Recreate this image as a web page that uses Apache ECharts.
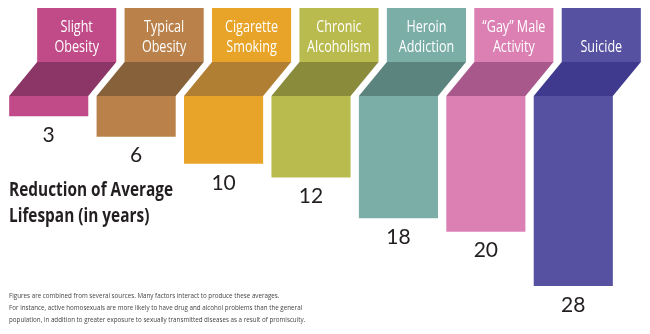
<!DOCTYPE html>
<html>
<head>
<meta charset="utf-8">
<script src="https://cdn.jsdelivr.net/npm/echarts@6/dist/echarts.min.js"></script>
<style>html,body{margin:0;padding:0;background:#fff;}#c{width:650px;height:334px;}</style>
</head>
<body>
<div id="c"></div>
<script>
var categories = ['Slight\nObesity', 'Typical\nObesity', 'Cigarette\nSmoking', 'Chronic\nAlcoholism', 'Heroin\nAddiction', '\u201cGay\u201d Male\nActivity', 'Suicide'];
var values = [3, 6, 10, 12, 18, 20, 28];
var mainColors = ['#C04B88', '#BA824A', '#E7A429', '#BABB4E', '#7AAEA6', '#DC80B4', '#5652A1'];
var darkColors = ['#8C3667', '#87613A', '#B17F33', '#8A8B3B', '#5B847E', '#A9588B', '#3F3A8D'];
var titleText = 'Reduction of Average\nLifespan (in years)';
var noteText = 'Figures are combined from several sources. Many factors interact to produce these averages.\nFor instance, active homosexuals are more likely to have drug and alcohol problems than the general\npopulation, in addition to greater exposure to sexually transmitted diseases as a result of promiscuity.';

var chart = echarts.init(document.getElementById('c'), null, {renderer: 'canvas'});
var FONT = '"Open Sans", "Noto Sans", sans-serif';

function renderItem(params, api) {
  var idx = api.value(0);
  var v = api.value(1);
  var p0 = api.coord([idx, 0]);
  var pv = api.coord([idx, v]);
  var band = api.size([1, 0])[0];
  var w = band * 0.905;
  var cx = p0[0];
  var y0 = p0[1];
  var yv = pv[1];
  var shift = 28;
  var slantH = 34;
  var boxH = 54;
  var left = cx - w / 2;
  return {
    type: 'group',
    children: [
      {type: 'rect', shape: {x: left, y: y0, width: w, height: yv - y0}, style: {fill: mainColors[idx]}},
      {type: 'polygon', shape: {points: [[left, y0], [left + w, y0], [left + w + shift, y0 - slantH], [left + shift, y0 - slantH]]}, style: {fill: darkColors[idx]}},
      {type: 'rect', shape: {x: left + shift, y: y0 - slantH - boxH, width: w, height: boxH}, style: {fill: mainColors[idx]}},
      {type: 'text', x: cx + shift, y: y0 - slantH - 5, scaleX: 0.74,
        style: {text: categories[idx], x: 0, y: 0, align: 'center', verticalAlign: 'bottom', fill: '#ffffff', font: '17px ' + FONT, lineHeight: 20}},
      {type: 'text', style: {text: String(v), x: cx, y: yv + 19, align: 'center', verticalAlign: 'middle', fill: '#231f20', font: '21px Lato, "Open Sans", sans-serif'}}
    ]
  };
}

var option = {
  backgroundColor: '#ffffff',
  animation: false,
  grid: {left: 5, right: 33, top: 96, bottom: 48},
  xAxis: {type: 'category', data: categories, show: false},
  yAxis: {type: 'value', min: 0, max: 28, inverse: true, show: false},
  graphic: [
    {type: 'text', x: 9, y: 177, scaleX: 0.77, style: {text: titleText, x: 0, y: 0, fill: '#231f20', font: 'bold 20px ' + FONT, lineHeight: 26}},
    {type: 'text', x: 9, y: 290, scaleX: 0.78, style: {text: noteText, x: 0, y: 0, fill: '#444444', font: '8px ' + FONT, lineHeight: 12}}
  ],
  series: [{
    type: 'custom',
    renderItem: renderItem,
    clip: false,
    data: values.map(function (v, i) { return [i, v]; })
  }]
};
chart.setOption(option);
</script>
</body>
</html>
